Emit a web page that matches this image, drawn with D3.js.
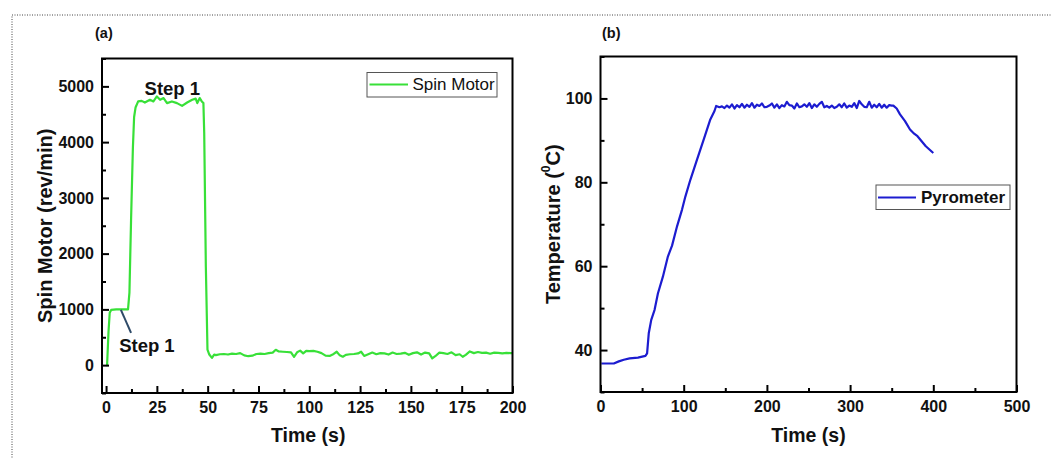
<!DOCTYPE html>
<html><head><meta charset="utf-8">
<script src="https://cdn.jsdelivr.net/npm/d3@7"></script>
<style>
html,body{margin:0;padding:0;background:#fff;}
svg{display:block;font-family:"Liberation Sans",Arial,sans-serif;}
</style></head>
<body><svg id="c" width="1052" height="458"></svg>
<script>
// ---- Panel (a): Spin motor ----
const spinTime = [0,0.5,1.2,1.8,2.5,5,8,10.8,11.5,12.3,13.2,13.8,14.5,15.8,17.5,19.1,21.6,23.3,25,26.6,28.3,30,32.4,34.9,37.4,39.9,42.4,44.1,44.9,46.1,47.1,47.9,48.3,49.1,49.9,50.8,52.1,53.2,
 54,56,58,60,62,64,66,68,70,72,74,76,78,80,82,83.5,85,87,89,91,92.5,94,95.5,97,98.5,100,102,104,106,108,110,112,113.5,115,116.5,118,120,122,124,125.5,127,129,131,133,135,137,139,141,143,145,147,149,151,153,155,157,159,160.5,162,164,166,168,170,172,174,175.5,177,179,181,183,185,187,189,191,193,195,197,199,200];
const spinRPM = [0,0,600,940,990,1000,1000,1000,1300,2600,3900,4450,4620,4730,4740,4710,4760,4730,4820,4760,4790,4700,4730,4700,4650,4710,4760,4780,4700,4790,4730,4700,4160,1770,280,190,130,190,
 180,195,200,190,205,200,215,175,160,170,200,205,200,215,225,275,245,240,235,230,150,230,260,210,255,250,255,240,215,170,165,200,240,175,150,185,195,200,210,240,165,195,225,195,215,210,190,225,200,205,220,185,215,230,190,225,210,120,160,225,215,200,230,180,195,150,185,245,215,235,220,225,205,225,220,210,220,215,215];
const spinXTicks = [0,25,50,75,100,125,150,175,200];
const spinXMinor = [12.5,37.5,62.5,87.5,112.5,137.5,162.5,187.5];
const spinYTicks = [0,1000,2000,3000,4000,5000];
const spinYMinor = [-500,500,1500,2500,3500,4500,5500];
// annotation anchors in data units [t, rpm]
const stepTopLabel = [32.6, 4840];
const stepLowLabel = [20.1, 240];
const stepLeader = [[7.3, 990], [12.3, 580]];

// ---- Panel (b): Pyrometer ----
const pyroTime = [1,8,16,22,28,35,45,54,56,58,61,65,69,75,81,86,92,98,102,108,116,124,132,137,139,
 143,146,149,152,155,158,161,164,167,170,173,176,179,182,185,188,191,194,197,200,203,206,209,212,215,218,221,224,227,230,233,236,239,242,245,248,251,254,257,260,263,266,269,272,275,278,281,284,287,290,293,296,299,302,305,308,311,314,317,320,323,326,329,332,335,338,341,344,347,350,
 352,356,360,366,372,377,381,386,391,396,400];
const pyroTemp = [36.8,36.8,36.8,37.3,37.7,38.0,38.2,38.6,39.2,44.0,47.2,49.6,53.5,57.5,62.3,64.9,69.5,73.5,76.6,80.6,85.4,90.2,95.0,97.0,98.2,
 97.9,98.1,97.7,98.3,97.8,98.6,97.6,98.4,97.9,98.7,97.8,98.5,98.0,98.9,97.8,98.5,98.2,98.8,97.9,98.0,98.3,98.8,97.8,98.6,97.7,98.4,98.1,99.2,98.4,98.3,97.6,98.8,97.9,98.1,98.6,98.0,98.9,97.7,98.6,98.0,98.7,99.2,97.9,98.2,97.8,98.3,97.7,98.0,98.6,97.9,98.8,97.8,98.3,98.0,98.9,97.7,99.4,98.6,98.0,97.9,99.2,97.8,98.5,97.9,98.7,97.8,98.5,97.8,98.4,98.3,
 98.3,97.6,96.2,94.6,92.6,91.6,91.0,89.8,88.6,87.7,87.0];
const pyroXTicks = [0,100,200,300,400,500];
const pyroXMinor = [50,150,250,350,450];
const pyroYTicks = [40,60,80,100];
const pyroYMinor = [30,50,70,90,110];

const svg = d3.select("#c");
const FONT = '"Liberation Sans",Arial,sans-serif';

// outer dotted border
svg.append("rect").attr("x",12).attr("y",15).attr("width",1060).attr("height",460)
  .attr("fill","none").attr("stroke","#444").attr("stroke-width",1).attr("stroke-dasharray","1,1.5");

function panel(o){
  const g = svg.append("g");
  const x = d3.scaleLinear().domain(o.xd).range([o.l,o.r]);
  const y = d3.scaleLinear().domain(o.yd).range([o.b,o.t]);
  const line = d3.line().x((d,i)=>x(o.xs[i])).y((d,i)=>y(o.ys[i]));
  g.append("path").datum(o.ys).attr("d",line).attr("fill","none")
    .attr("stroke",o.color).attr("stroke-width",2.2).attr("stroke-linejoin","round");
  const xa = g.append("g").attr("transform",`translate(0,${o.b})`)
    .call(d3.axisBottom(x).tickValues(o.xt).tickSizeInner(-7).tickSizeOuter(0).tickPadding(9).tickFormat(d3.format("d")));
  const xm = g.append("g").attr("transform",`translate(0,${o.b})`)
    .call(d3.axisBottom(x).tickValues(o.xm).tickSizeInner(-4).tickSizeOuter(0).tickFormat(""));
  const ya = g.append("g").attr("transform",`translate(${o.l},0)`)
    .call(d3.axisLeft(y).tickValues(o.yt).tickSizeInner(-7).tickSizeOuter(0).tickPadding(8).tickFormat(d3.format("d")));
  const ym = g.append("g").attr("transform",`translate(${o.l},0)`)
    .call(d3.axisLeft(y).tickValues(o.ym).tickSizeInner(-4).tickSizeOuter(0).tickFormat(""));
  [xa,xm,ya,ym].forEach(a=>{
    a.select(".domain").remove();
    a.selectAll(".tick line").attr("stroke","#000").attr("stroke-width",2);
    a.selectAll("text").attr("font-family",FONT).attr("font-size",16).attr("font-weight","bold").attr("fill","#111");
  });
  g.append("rect").attr("x",o.l).attr("y",o.t).attr("width",o.r-o.l).attr("height",o.b-o.t)
    .attr("fill","none").attr("stroke","#000").attr("stroke-width",2);
  g.append("text").attr("x",(o.l+o.r)/2+o.xlOff).attr("y",442).attr("text-anchor","middle")
    .attr("font-family",FONT).attr("font-weight","bold").attr("font-size",19.5).attr("fill","#111").text("Time (s)");
  return {g,x,y};
}

// Panel (a)
const A = panel({xd:[-2,200], yd:[-500,5500], l:102, r:512.5, t:58.5, b:393,
  xs:spinTime, ys:spinRPM, color:"#38e038", xt:spinXTicks, xm:spinXMinor, yt:spinYTicks, ym:spinYMinor, xlOff:1});
A.g.append("text").attr("transform",`translate(45,${(58.5+393)/2}) rotate(-90)`).attr("text-anchor","middle")
  .attr("dominant-baseline","central").attr("font-family",FONT).attr("font-weight","bold").attr("font-size",20).attr("fill","#111")
  .text("Spin Motor (rev/min)");
A.g.append("text").attr("x",A.x(stepTopLabel[0])).attr("y",A.y(stepTopLabel[1])).attr("text-anchor","middle")
  .attr("font-family",FONT).attr("font-weight","bold").attr("font-size",18.5).attr("fill","#111").text("Step 1");
A.g.append("text").attr("x",A.x(stepLowLabel[0])).attr("y",A.y(stepLowLabel[1])).attr("text-anchor","middle")
  .attr("font-family",FONT).attr("font-weight","bold").attr("font-size",18.5).attr("fill","#111").text("Step 1");
A.g.append("line").attr("x1",A.x(stepLeader[0][0])).attr("y1",A.y(stepLeader[0][1]))
  .attr("x2",A.x(stepLeader[1][0])).attr("y2",A.y(stepLeader[1][1])).attr("stroke","#2e4a68").attr("stroke-width",2);
A.g.append("rect").attr("x",367).attr("y",72.5).attr("width",130).attr("height",24.5).attr("fill","#fff").attr("stroke","#555").attr("stroke-width",1);
A.g.append("line").attr("x1",369.5).attr("x2",408).attr("y1",84.5).attr("y2",84.5).attr("stroke","#38e038").attr("stroke-width",2.2);
A.g.append("text").attr("x",412.5).attr("y",84.5).attr("dominant-baseline","central")
  .attr("font-family",FONT).attr("font-size",17).attr("fill","#111").text("Spin Motor");
svg.append("text").attr("x",95).attr("y",38).attr("font-family",FONT).attr("font-weight","bold").attr("font-size",14.5).attr("fill","#111").text("(a)");

// Panel (b)
const B = panel({xd:[0,500], yd:[30,110], l:600.5, r:1016.5, t:56.5, b:392,
  xs:pyroTime, ys:pyroTemp, color:"#1c1cd0", xt:pyroXTicks, xm:pyroXMinor, yt:pyroYTicks, ym:pyroYMinor, xlOff:0});
const tl = B.g.append("text").attr("transform",`translate(553,${(56.5+392)/2}) rotate(-90)`).attr("text-anchor","middle")
  .attr("dominant-baseline","central").attr("font-family",FONT).attr("font-weight","bold").attr("font-size",20).attr("fill","#111");
tl.append("tspan").text("Temperature (");
tl.append("tspan").attr("font-size",12).attr("dy",-7).text("0");
tl.append("tspan").attr("dy",7).text("C)");
B.g.append("rect").attr("x",876).attr("y",185).attr("width",134).attr("height",24.5).attr("fill","#fff").attr("stroke","#555").attr("stroke-width",1);
B.g.append("line").attr("x1",878).attr("x2",916).attr("y1",197.5).attr("y2",197.5).attr("stroke","#1c1cd0").attr("stroke-width",2.2);
B.g.append("text").attr("x",921).attr("y",197.5).attr("dominant-baseline","central")
  .attr("font-family",FONT).attr("font-weight","bold").attr("font-size",17).attr("fill","#111").text("Pyrometer");
svg.append("text").attr("x",602).attr("y",38).attr("font-family",FONT).attr("font-weight","bold").attr("font-size",14.5).attr("fill","#111").text("(b)");
</script></body></html>
